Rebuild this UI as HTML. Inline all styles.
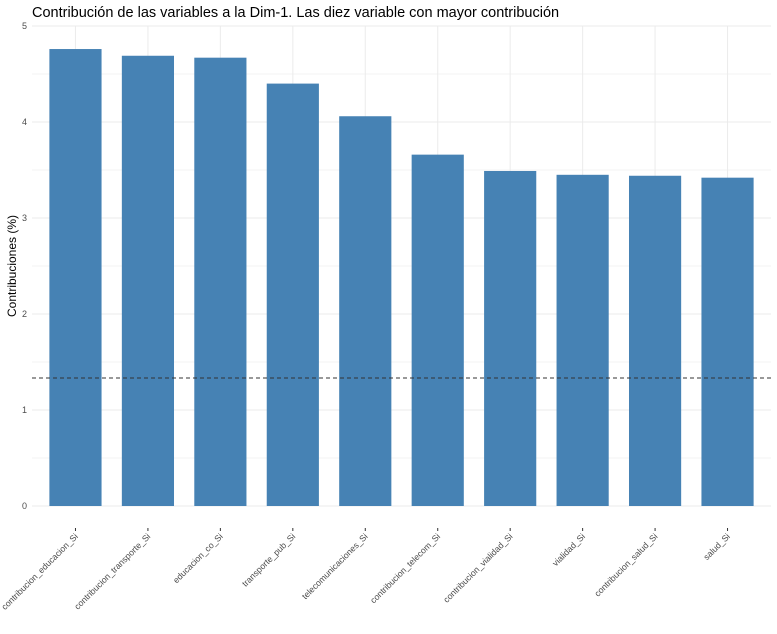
<!DOCTYPE html>
<html><head><meta charset="utf-8"><style>
body{margin:0;background:#fff;font-family:"Liberation Sans",Arial,sans-serif}
</style></head><body>
<svg id="chart" width="777" height="629" xmlns="http://www.w3.org/2000/svg">
<text x="32" y="17" font-size="14.5" fill="#000">Contribución de las variables a la Dim-1. Las diez variable con mayor contribución</text>
<text transform="translate(16,266) rotate(-90)" text-anchor="middle" font-size="12" fill="#000">Contribuciones (%)</text>
<g id="grid"></g><g id="bars"></g><g id="axes"></g>
</svg>
<script>
const categories=["contribucion_educacion_Si","contribucion_transporte_Si","educacion_co_Si","transporte_pub_Si","telecomunicaciones_Si","contribucion_telecom_Si","contribucion_vialidad_Si","vialidad_Si","contribucion_salud_Si","salud_Si"];
const values=[4.76,4.69,4.67,4.40,4.06,3.66,3.49,3.45,3.44,3.42];
const yTicks=[0,1,2,3,4,5];
const refLine=1.333;
const NS="http://www.w3.org/2000/svg";
const left=32,right=771,y0=506,pxPerUnit=96;
const step=(right-left)/(categories.length+0.2);
const xc=i=>left+step*(i+0.6);
const y=v=>y0-v*pxPerUnit;
function mk(tag,attrs,parent){const e=document.createElementNS(NS,tag);for(const k in attrs)e.setAttribute(k,attrs[k]);parent.appendChild(e);return e;}
const grid=document.getElementById('grid'),bars=document.getElementById('bars'),axes=document.getElementById('axes');
yTicks.forEach((t,i)=>{
 const g=mk('line',{x1:left,x2:right,y1:y(t),y2:y(t),stroke:'#ebebeb','stroke-width':1},grid);
 
 
 if(i<yTicks.length-1){const m=mk('line',{x1:left,x2:right,y1:y(t+0.5),y2:y(t+0.5),stroke:'#f3f3f3','stroke-width':1},grid);
 
 }
 const tl=mk('text',{x:27,y:y(t)+3,'text-anchor':'end','font-size':9,fill:'#4d4d4d'},axes);
 tl.textContent=t;
 
 
});
categories.forEach((c,i)=>{
 const x=xc(i);
 const gl=mk('line',{x1:x,x2:x,y1:y(5),y2:y0,stroke:'#ebebeb'},grid);
 
 
 const w=step*0.72;
 const r=mk('rect',{x:x-w/2,y:y(values[i]),width:w,height:values[i]*pxPerUnit,fill:'#4682b4'},bars);
 
 
 const tk=mk('line',{x1:x,x2:x,y1:y0+22,y2:y0+25,stroke:'#333'},axes);
 
 
 const t=mk('text',{transform:`translate(${x+3},${y0+31}) rotate(-45)`,'text-anchor':'end','font-size':8.7,fill:'#4d4d4d'},axes);
 t.textContent=c;
 
 
});
const rl=mk('line',{x1:left,x2:right,y1:y(refLine),y2:y(refLine),stroke:'#333','stroke-dasharray':'4,3','stroke-width':1},axes);


</script>
</body></html>
